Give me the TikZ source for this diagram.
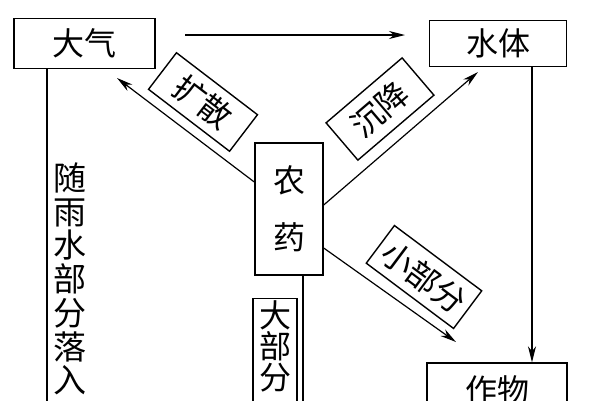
\documentclass[tikz,border=0pt]{standalone}
\usepackage{fontspec}
\newfontfamily\cjk{Noto Sans CJK SC}
\usetikzlibrary{arrows.meta,calc}
\begin{document}
\begin{tikzpicture}[x=1pt,y=-1pt,
  box/.style={draw,line width=1.4pt,inner sep=0pt,font=\cjk\fontsize{32}{34}\selectfont},
  tag/.style={draw,line width=1.4pt,inner sep=0pt,font=\cjk\fontsize{32}{34}\selectfont},
  vtext/.style={align=center,inner sep=0pt,font=\cjk\fontsize{33}{33.7}\selectfont},
  conn/.style={line width=1.2pt},
  arr/.style={conn,-{Stealth[length=16pt,width=8pt,inset=5pt]}}]
\useasboundingbox (0,0) rectangle (592,400);
\clip (0,0) rectangle (592,400);

\node[box,minimum width=141pt,minimum height=50pt] (daqi) at (84.5,43.5) {大气};
\node[box,minimum width=137pt,minimum height=46pt] (shuiti) at (498,43.7) {水体};
\node[box,minimum width=68pt,minimum height=132pt,align=center,font=\cjk\fontsize{32}{57}\selectfont] (nongyao) at (289,209) {农\\药};
\node[box,minimum width=140pt,minimum height=54pt] (zuowu) at (497,390) {作物};
\node[box,anchor=north,minimum width=44pt,inner ysep=2pt,align=center,font=\cjk\fontsize{32}{31}\selectfont] (dabufen) at (275,298) {大\\部\\分\\\phantom{大}};
\node[vtext] (rain) at (70,279) {随\\雨\\水\\部\\分\\落\\入};

\node[tag,rotate=-37.4,minimum width=102pt,minimum height=46pt] (kuosan) at (203,102) {扩散};
\node[tag,rotate=40.5,minimum width=100pt,minimum height=49pt] (chenjiang) at (380,109) {沉降};
\node[tag,rotate=-36.8,minimum width=109pt,minimum height=47pt] (xiaobufen) at (424,277) {小部分};

\coordinate (ta1) at (185,35);
\coordinate (ta2) at (405,35);
\coordinate (kstip) at (117,78);
\coordinate (cjtip) at (478,72);
\coordinate (xbtip) at (456,342);
\coordinate (leftend) at (47,410);
\coordinate (botend) at (303,410);

\draw[arr] (ta1) -- (ta2);
\draw[arr] ($(nongyao.west)+(0,-27)$) -- (kstip);
\draw[arr] ($(nongyao.east)+(0,-4)$) -- (cjtip);
\draw[arr] ($(nongyao.east)+(0,39)$) -- (xbtip);
\draw[arr] ($(shuiti.south)+(34,0)$) -- ($(zuowu.north)+(35,0)$);
\draw[conn] ($(daqi.south)+(-37.5,0)$) -- (leftend);
\draw[conn] ($(nongyao.south)+(14,0)$) -- (botend);
\end{tikzpicture}
\end{document}
